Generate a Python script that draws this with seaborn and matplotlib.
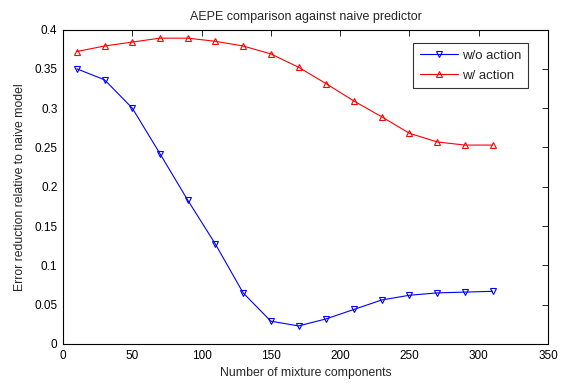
import pandas as pd
import matplotlib
matplotlib.use("Agg")
import matplotlib.pyplot as plt
import seaborn as sns

components = [10, 30, 50, 70, 90, 110, 130, 150, 170, 190, 210, 230, 250, 270, 290, 310]
wo_action = [0.350, 0.336, 0.300, 0.242, 0.183, 0.127, 0.065, 0.029, 0.023, 0.032,
             0.044, 0.056, 0.062, 0.065, 0.066, 0.067]
w_action = [0.372, 0.379, 0.384, 0.389, 0.389, 0.385, 0.379, 0.369, 0.352, 0.331,
            0.309, 0.289, 0.268, 0.257, 0.253, 0.253]

df = pd.DataFrame({
    "components": components * 2,
    "reduction": wo_action + w_action,
    "series": ["w/o action"] * len(components) + ["w/ action"] * len(components),
})

sns.set_style("white")
plt.rcParams["font.family"] = ["Liberation Sans", "DejaVu Sans"]
plt.rcParams["font.size"] = 8

fig = plt.figure(figsize=(5.76, 3.86), dpi=100)
ax = fig.add_axes([63 / 576, 1 - 344 / 386, 485 / 576, 314.5 / 386])

sns.lineplot(
    data=df, x="components", y="reduction", hue="series", style="series",
    palette={"w/o action": "#0000ff", "w/ action": "#ff0000"},
    markers={"w/o action": "v", "w/ action": "^"}, dashes=False,
    markerfacecolor="none", markersize=5, markeredgewidth=0.8, linewidth=0.8,
    ax=ax,
)
for line in ax.lines:
    line.set_markeredgecolor(line.get_color())
    line.set_markerfacecolor("none")

ax.set_xlim(0, 350)
ax.set_ylim(0, 0.4)
ax.set_xticks(range(0, 351, 50))
ax.set_yticks([0, 0.05, 0.1, 0.15, 0.2, 0.25, 0.3, 0.35, 0.4])
ax.set_yticklabels(["0", "0.05", "0.1", "0.15", "0.2", "0.25", "0.3", "0.35", "0.4"])
ax.tick_params(direction="in", length=4.5, width=0.6, top=True, right=True,
               labelsize=8.5, colors="black", pad=4)
for s in ax.spines.values():
    s.set_linewidth(0.8)
    s.set_color("black")

ax.set_xlabel("Number of mixture components", fontsize=8.8, labelpad=4)
ax.set_ylabel("Error reduction relative to naive model", fontsize=8.8, labelpad=6)
ax.set_title("AEPE comparison against naive predictor", fontsize=9, pad=7)

# legend box roughly 417-528 px wide, 43-89 px tall in the reference
leg = ax.legend(loc="upper right", bbox_to_anchor=(528 / 576, 1 - 43 / 386),
                bbox_transform=fig.transFigure, borderaxespad=0,
                fontsize=9.5, frameon=True, fancybox=False, edgecolor="black",
                handlelength=2.9, handletextpad=0.3, labelspacing=0.57,
                borderpad=0.5)
leg.get_frame().set_linewidth(0.8)
for h in leg.legend_handles:
    h.set_markerfacecolor("none")

fig.savefig("out.png", dpi=100)
